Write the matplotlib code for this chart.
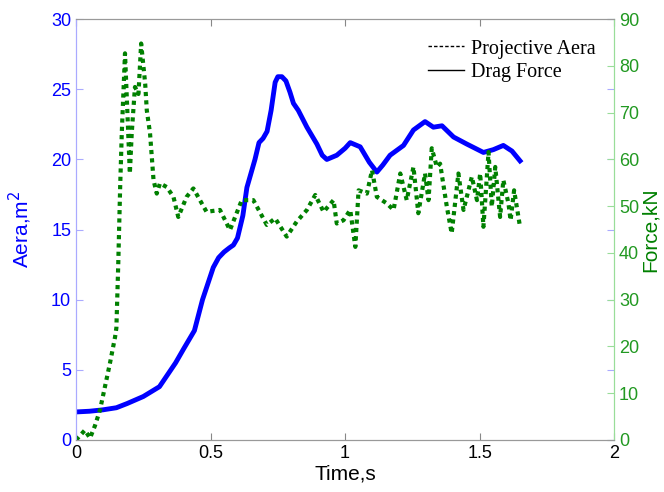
import numpy as np
import matplotlib.pyplot as plt
from matplotlib.lines import Line2D

plt.rcParams['font.family'] = ['Liberation Sans', 'DejaVu Sans']

# Projected area (left axis), m^2
t_area = [0, 0.05, 0.10, 0.15, 0.19, 0.25, 0.31, 0.37, 0.40, 0.44, 0.47, 0.51,
          0.53, 0.55, 0.57, 0.585, 0.60, 0.62, 0.635, 0.65, 0.665, 0.68, 0.695,
          0.71, 0.725, 0.74, 0.75, 0.765, 0.78, 0.795, 0.808, 0.826, 0.858,
          0.895, 0.915, 0.932, 0.969, 1.0, 1.019, 1.056, 1.09, 1.118, 1.14,
          1.167, 1.217, 1.254, 1.297, 1.328, 1.36, 1.403, 1.452, 1.514, 1.551,
          1.588, 1.62, 1.65]
area = [2.0, 2.05, 2.15, 2.3, 2.6, 3.1, 3.8, 5.5, 6.5, 7.8, 10.0, 12.3,
        13.0, 13.4, 13.7, 13.9, 14.4, 16.0, 18.0, 19.0, 20.0, 21.2, 21.5,
        22.0, 23.5, 25.5, 25.9, 25.9, 25.6, 24.8, 24.0, 23.5, 22.3,
        21.1, 20.3, 20.0, 20.3, 20.8, 21.2, 20.9, 19.8, 19.1, 19.6,
        20.3, 21.0, 22.1, 22.7, 22.3, 22.4, 21.6, 21.1, 20.5, 20.7,
        21.0, 20.6, 19.9]

# Drag force (right axis), kN
t_force = [0, 0.033, 0.052, 0.07, 0.089, 0.126, 0.145, 0.150, 0.157, 0.164, 0.17,
           0.182, 0.194, 0.2, 0.207, 0.219, 0.232, 0.242, 0.257, 0.263, 0.275,
           0.288, 0.3, 0.312, 0.337, 0.362, 0.38, 0.411, 0.436, 0.485, 0.535,
           0.572, 0.616, 0.659, 0.709, 0.74, 0.783, 0.82, 0.858, 0.889, 0.92,
           0.957, 0.969, 0.994, 1.019, 1.038, 1.05, 1.081, 1.1, 1.118, 1.155,
           1.18, 1.205, 1.229, 1.254, 1.272, 1.297, 1.31, 1.322, 1.341, 1.353,
           1.378, 1.396, 1.421, 1.44, 1.471, 1.49, 1.502, 1.514, 1.533, 1.545,
           1.558, 1.576, 1.588, 1.607, 1.615, 1.628, 1.65]
force = [0, 2.1, 0.4, 3.0, 6.4, 16.4, 22.0, 24.0, 37.8, 54.1, 65.6,
         82.7, 65.6, 57.0, 65.6, 75.5, 74.0, 84.8, 76.2, 70.5, 65.6,
         55.6, 52.7, 54.9, 54.1, 52.0, 47.7, 52.0, 53.8, 48.8, 49.2,
         44.9, 51.3, 51.3, 46.0, 47.4, 43.5, 46.7, 49.2, 52.4, 48.8,
         51.3, 46.3, 47.0, 49.2, 41.3, 53.4, 52.7, 57.7, 52.0, 50.6,
         49.2, 57.0, 51.3, 58.4, 48.5, 57.0, 51.3, 62.4, 58.4, 59.1,
         49.9, 44.2, 57.0, 49.2, 56.3, 51.3, 57.0, 45.6, 61.6, 49.9,
         58.4, 47.7, 55.6, 50.6, 47.0, 53.4, 45.6]

blue = '#0000ff'
green = '#008000'

fig = plt.figure(figsize=(6.64, 4.92), dpi=100)
ax1 = fig.add_axes([0.1145, 0.1057, 0.8105, 0.8553])
ax2 = ax1.twinx()

ax1.plot(t_area, area, color=blue, lw=3.5, solid_joinstyle='round')
ax2.plot(t_force, force, color=green, lw=3, linestyle=(0, (1, 1)))

ax1.set_xlim(0, 2)
ax1.set_ylim(0, 30)
ax2.set_ylim(0, 90)
ax1.set_xticks([0, 0.5, 1, 1.5, 2])
ax1.set_xticklabels(['0', '0.5', '1', '1.5', '2'])
ax1.set_yticks(range(0, 31, 5))
ax2.set_yticks(range(0, 91, 10))

ax1.tick_params(axis='x', direction='in', top=True, colors='#888888',
                labelcolor='black', labelsize=13, length=5)
ax1.tick_params(axis='y', direction='in', right=True, colors='#aaaaff',
                labelcolor=blue, labelsize=13, length=5)
ax2.tick_params(axis='y', direction='in', colors='#99dd99',
                labelcolor='#229922', labelsize=13, length=5)

for a in (ax1, ax2):
    a.spines['top'].set_color('#999999')
    a.spines['bottom'].set_color('#999999')
    a.spines['left'].set_color('#aaaaff')
    a.spines['right'].set_color('#99dd99')

ax1.set_xlabel('Time,s', fontsize=15, labelpad=2)
ax1.set_ylabel('Aera,m$^2$', color=blue, fontsize=15)
ax1.yaxis.set_label_coords(-0.078, 0.5)
ax2.set_ylabel('Force,kN', color=green, fontsize=15)
ax2.yaxis.set_label_coords(1.05, 0.5)

handles = [Line2D([], [], color='black', lw=1, linestyle=(0, (2.5, 1.5))),
           Line2D([], [], color='black', lw=1)]
ax1.legend(handles, ['Projective Aera', 'Drag Force'], loc='upper right',
           bbox_to_anchor=(1.0, 0.995), frameon=False, handlelength=1.8,
           labelspacing=0.2, handletextpad=0.35,
           prop={'family': 'Liberation Serif', 'size': 14.5})

fig.savefig('out.png', dpi=100)
